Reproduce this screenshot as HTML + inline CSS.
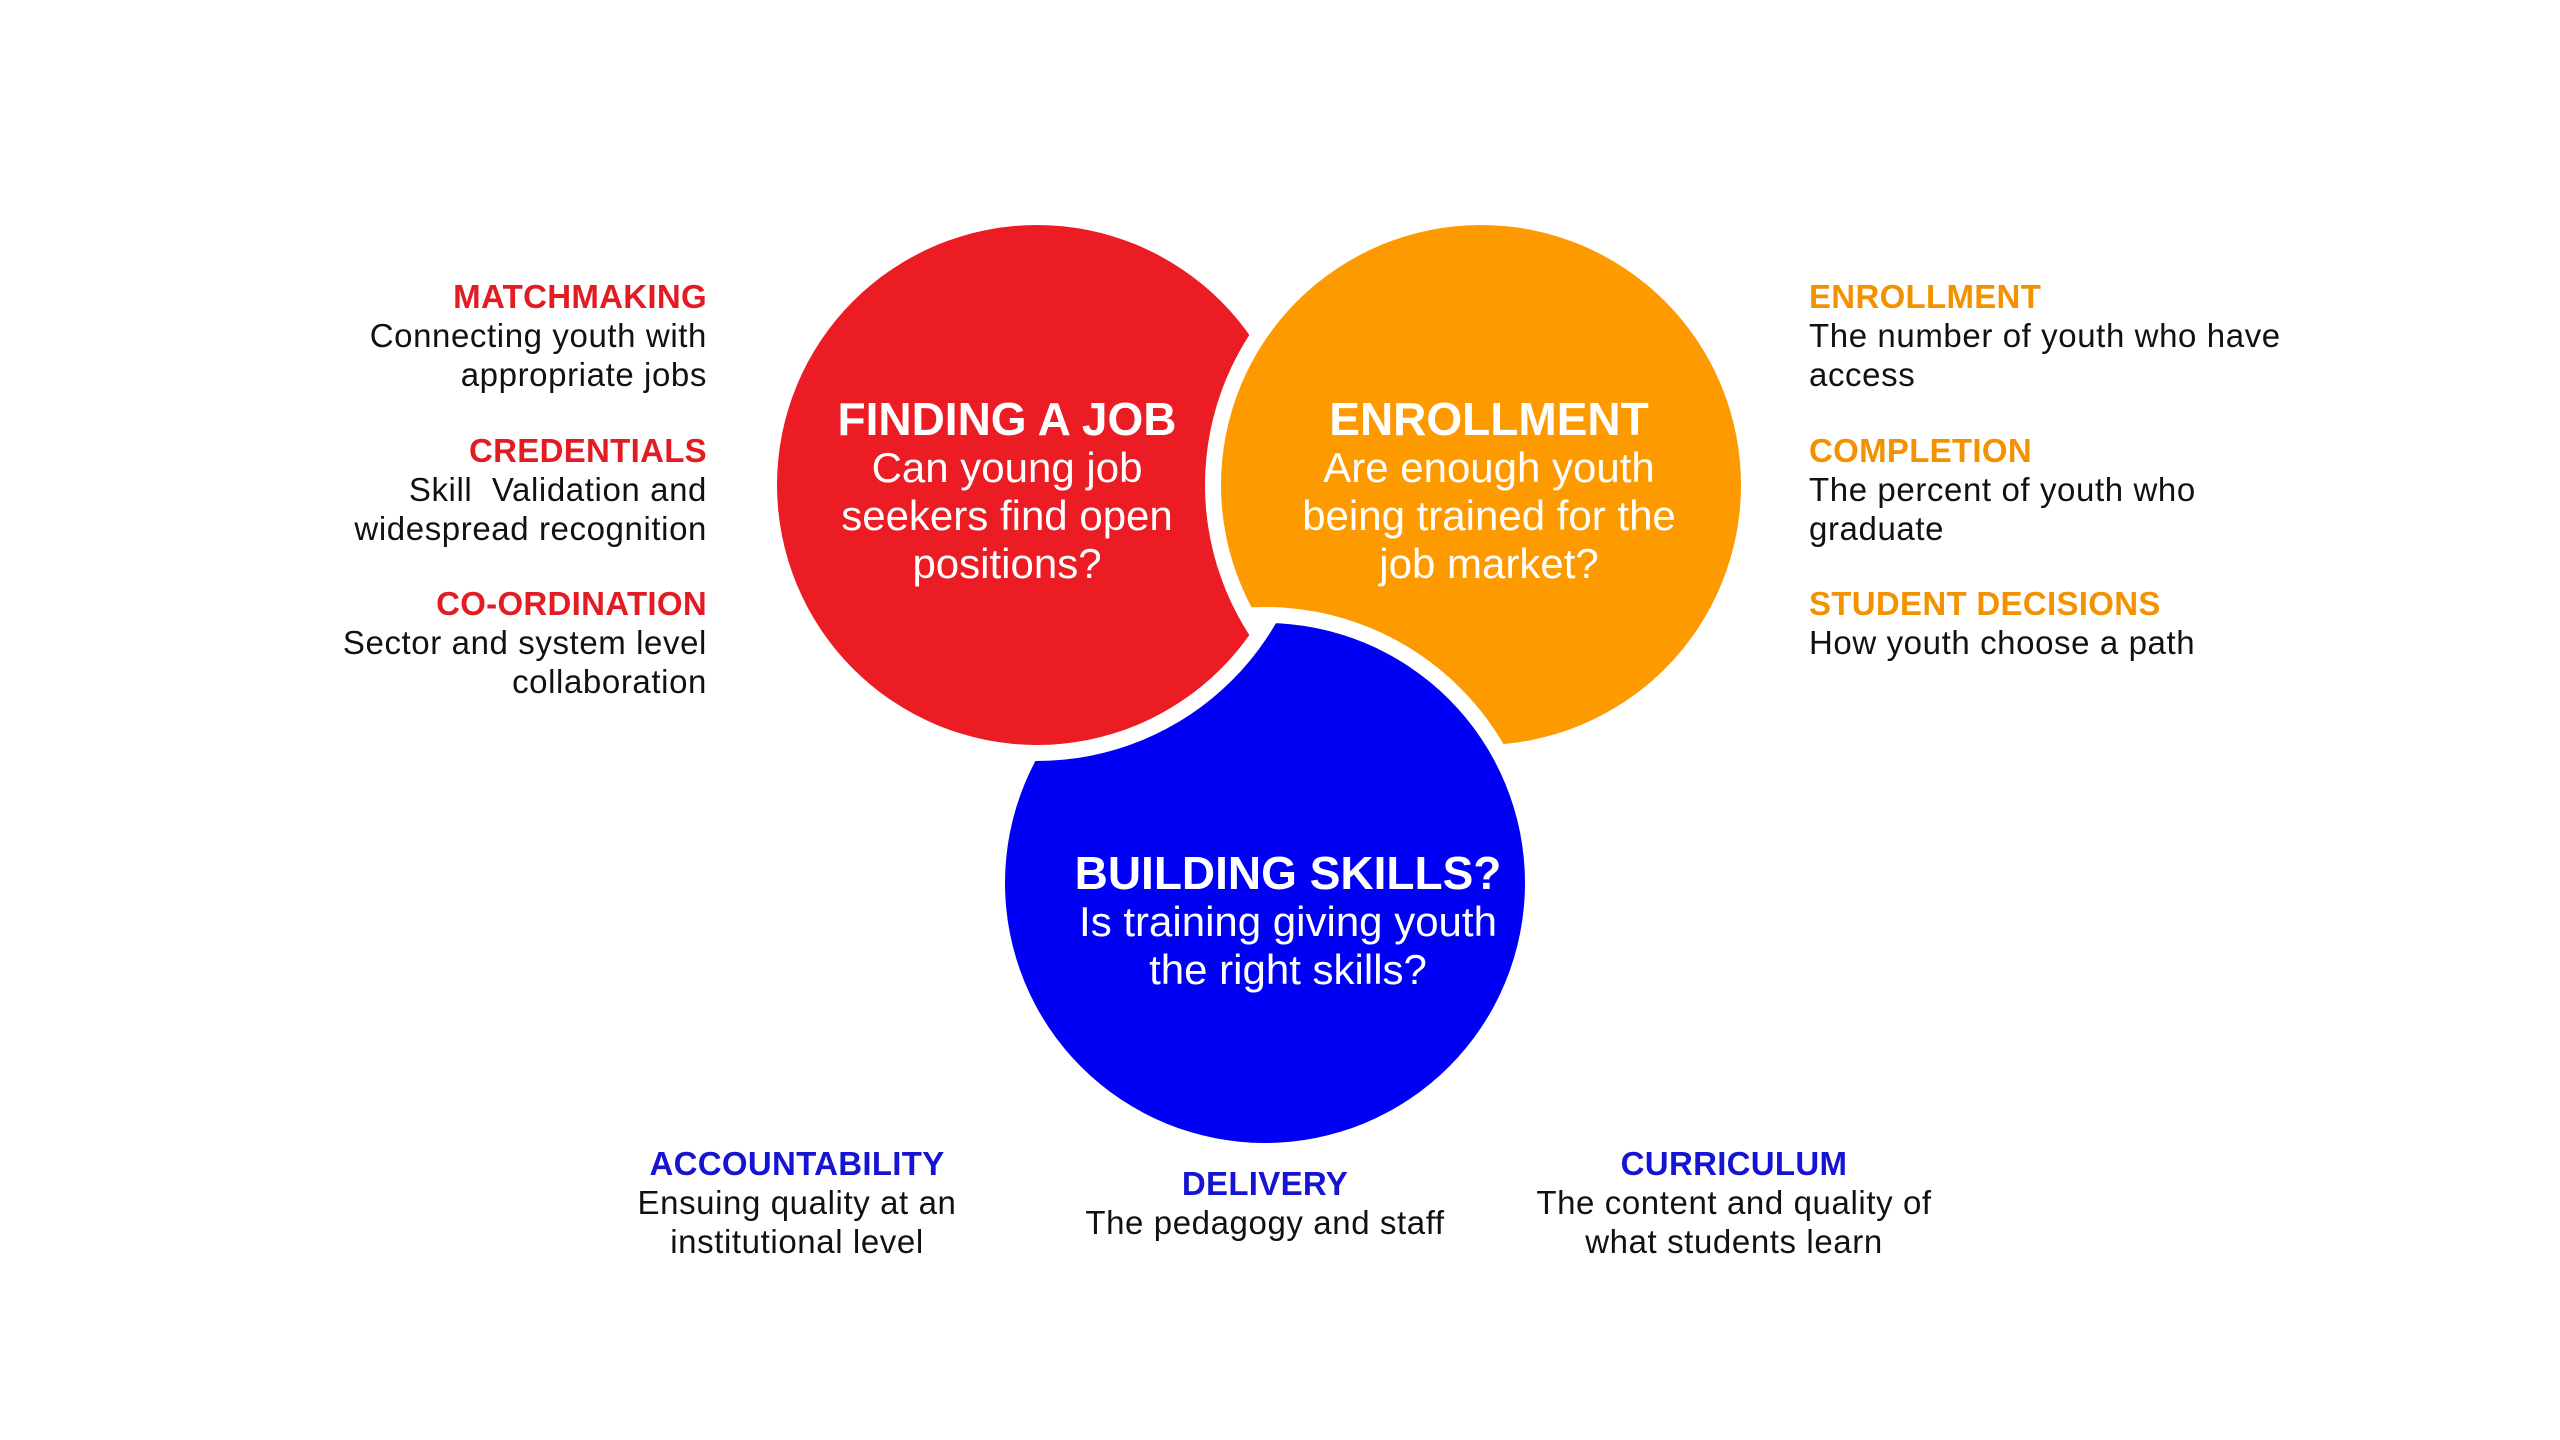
<!DOCTYPE html>
<html><head><meta charset="utf-8"><style>
html,body{margin:0;padding:0;width:2560px;height:1440px;background:#fff;overflow:hidden;font-family:"Liberation Sans",sans-serif;}
.t{position:absolute;font-size:33px;letter-spacing:0.6px;line-height:39px;color:#111;white-space:nowrap;}
.t b{display:block;letter-spacing:0.3px;}
.r{text-align:right;}
.c{text-align:center;transform:translateX(-50%);}
.ct{position:absolute;color:#fff;text-align:center;transform:translateX(-50%);white-space:nowrap;font-size:42px;line-height:48px;}
.ct b{display:block;font-size:46px;line-height:50px;}
</style></head><body>
<svg width="2560" height="1440" style="position:absolute;left:0;top:0">
<defs>
<mask id="mr"><rect width="2560" height="1440" fill="#fff"/><circle cx="1481" cy="485" r="276" fill="#000"/></mask>
<mask id="mo"><rect width="2560" height="1440" fill="#fff"/><circle cx="1265" cy="883" r="276" fill="#000"/></mask>
<mask id="mb"><rect width="2560" height="1440" fill="#fff"/><circle cx="1037" cy="485" r="276" fill="#000"/></mask>
</defs>
<circle cx="1037" cy="485" r="260" fill="#EC1C24" mask="url(#mr)"/>
<circle cx="1481" cy="485" r="260" fill="#FD9A00" mask="url(#mo)"/>
<circle cx="1265" cy="883" r="260" fill="#0000F5" mask="url(#mb)"/>
</svg>
<div class="ct" style="left:1007px;top:394px"><b>FINDING A JOB</b>Can young job<br>seekers find open<br>positions?</div>
<div class="ct" style="left:1489px;top:394px"><b>ENROLLMENT</b>Are enough youth<br>being trained for the<br>job market?</div>
<div class="ct" style="left:1288px;top:848px"><b>BUILDING SKILLS?</b>Is training giving youth<br>the right skills?</div>

<div class="t r" style="right:1853px;top:277px"><b style="color:#E31B23">MATCHMAKING</b>Connecting youth with<br>appropriate jobs</div>
<div class="t r" style="right:1853px;top:431px"><b style="color:#E31B23">CREDENTIALS</b>Skill&nbsp; Validation and<br>widespread recognition</div>
<div class="t r" style="right:1853px;top:584px"><b style="color:#E31B23">CO-ORDINATION</b>Sector and system level<br>collaboration</div>

<div class="t" style="left:1809px;top:277px"><b style="color:#F39200">ENROLLMENT</b>The number of youth who have<br>access</div>
<div class="t" style="left:1809px;top:431px"><b style="color:#F39200">COMPLETION</b>The percent of youth who<br>graduate</div>
<div class="t" style="left:1809px;top:584px"><b style="color:#F39200">STUDENT DECISIONS</b>How youth choose a path</div>

<div class="t c" style="left:797px;top:1144px"><b style="color:#1414D2">ACCOUNTABILITY</b>Ensuing quality at an<br>institutional level</div>
<div class="t c" style="left:1265px;top:1164px"><b style="color:#1414D2">DELIVERY</b>The pedagogy and staff</div>
<div class="t c" style="left:1734px;top:1144px"><b style="color:#1414D2">CURRICULUM</b>The content and quality of<br>what students learn</div>
</body></html>
